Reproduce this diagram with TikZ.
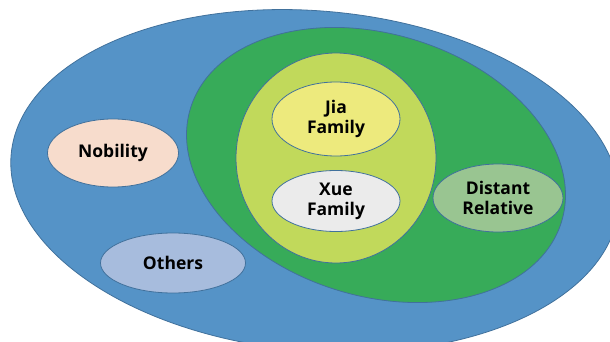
\documentclass[tikz,border=0pt]{standalone}
\usepackage{fontspec}
\setmainfont{Open Sans}
\usetikzlibrary{shapes.geometric}

\definecolor{outerblue}{HTML}{5593C7}
\definecolor{kingreen}{HTML}{37AB59}
\definecolor{limegreen}{HTML}{C1D95B}
\definecolor{jiayellow}{HTML}{EDEA7D}
\definecolor{xuegray}{HTML}{EBEBEB}
\definecolor{distgreen}{HTML}{99C591}
\definecolor{nobpink}{HTML}{F7DCCC}
\definecolor{othblue}{HTML}{A7BCDD}
\definecolor{edgeblue}{HTML}{41719C}

\begin{document}
\begin{tikzpicture}[
  x=1pt, y=-1pt,
  region/.style={ellipse, draw=edgeblue, line width=0.8pt, inner sep=0pt,
                 align=center, font=\bfseries\fontsize{17.5}{20}\selectfont}
]
\useasboundingbox (0,0) rectangle (610,342);
\clip (0,0) rectangle (610,342);
% nested sets
\node[region, fill=outerblue, minimum width=610pt, minimum height=340pt, rotate=-5] (all) at (315,181) {};
\node[region, fill=kingreen, minimum width=388pt, minimum height=262pt, rotate=-17] (kin) at (376,165) {};
\node[region, fill=limegreen, minimum width=200pt, minimum height=210pt] (main) at (336,158) {};
% members
\node[region, fill=jiayellow, minimum width=128pt, minimum height=74pt] (jia) at (336,119) {Jia\\Family};
\node[region, fill=xuegray, minimum width=128pt, minimum height=61pt] (xue) at (336,201) {Xue\\Family};
\node[region, fill=distgreen, minimum width=130pt, minimum height=68pt] (dist) at (498,198) {Distant\\Relative};
\node[region, fill=nobpink, minimum width=131pt, minimum height=68pt] (nob) at (113,153) {Nobility};
\node[region, fill=othblue, minimum width=145pt, minimum height=60pt] (oth) at (173,263) {Others};
\end{tikzpicture}
\end{document}
